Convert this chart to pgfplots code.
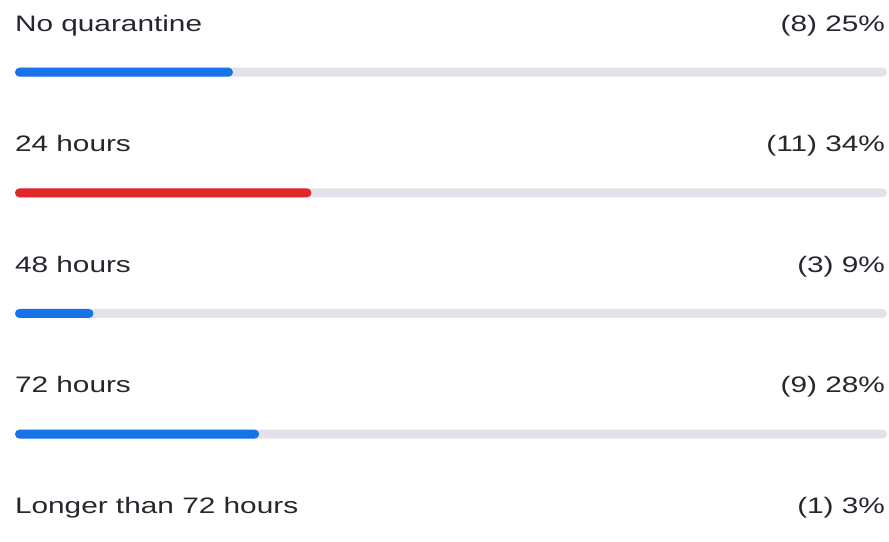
\documentclass[border=0pt]{standalone}
\usepackage{fontspec}
\setmainfont{Liberation Sans}
\usepackage{graphicx}
\usepackage{pgfplots}
\usepackage{pgfplotstable}
\pgfplotsset{compat=1.18}
\definecolor{barblue}{HTML}{1773E8}
\definecolor{barred}{HTML}{E0282A}
\definecolor{track}{HTML}{E3E2E9}
\definecolor{txt}{HTML}{26262E}
\newcommand{\wt}[1]{\scalebox{1.33}[1]{#1}}
\tikzset{lbl/.style={font=\fontsize{11.2}{13}\selectfont, text=txt, inner sep=0pt, outer sep=0pt}}
\pgfplotstableread[col sep=comma]{
y,total
-72.2,100
-192.8,100
-313.4,100
-434.0,100
-554.6,100
}\track
\pgfplotstableread[col sep=comma]{
y,count,pct
-72.2,8,25
-313.4,3,9
-434.0,9,28
-554.6,1,3
}\bluedata
\pgfplotstableread[col sep=comma]{
y,count,pct
-192.8,11,34
}\reddata
\begin{document}
\begin{tikzpicture}
\begin{axis}[
  scale only axis, width=444.5pt, height=270.5pt,
  xmin=-1.7202, xmax=100.2294, ymin=-541, ymax=0,
  hide axis, xbar, bar shift=0pt, bar width=4.5pt,
  clip=true,
]
\addplot[draw=none, fill=track, rounded corners=2.25pt] table[x=total, y=y]{\track};
\addplot[draw=none, fill=barblue, rounded corners=2.25pt] table[x=pct, y=y]{\bluedata};
\addplot[draw=none, fill=barred, rounded corners=2.25pt] table[x=pct, y=y]{\reddata};
\node[lbl, anchor=base west] at (axis cs:0,-31) {\wt{No quarantine}};
\node[lbl, anchor=base west] at (axis cs:0,-151.6) {\wt{24 hours}};
\node[lbl, anchor=base west] at (axis cs:0,-272.2) {\wt{48 hours}};
\node[lbl, anchor=base west] at (axis cs:0,-392.8) {\wt{72 hours}};
\node[lbl, anchor=base west] at (axis cs:0,-513.4) {\wt{Longer than 72 hours}};
\node[lbl, anchor=base east] at (axis cs:99.77,-31) {\wt{(8) 25\%}};
\node[lbl, anchor=base east] at (axis cs:99.77,-151.6) {\wt{(11) 34\%}};
\node[lbl, anchor=base east] at (axis cs:99.77,-272.2) {\wt{(3) 9\%}};
\node[lbl, anchor=base east] at (axis cs:99.77,-392.8) {\wt{(9) 28\%}};
\node[lbl, anchor=base east] at (axis cs:99.77,-513.4) {\wt{(1) 3\%}};
\end{axis}
\pgfresetboundingbox
\path[use as bounding box] (current axis.south west) rectangle (current axis.north east);
\end{tikzpicture}
\end{document}
